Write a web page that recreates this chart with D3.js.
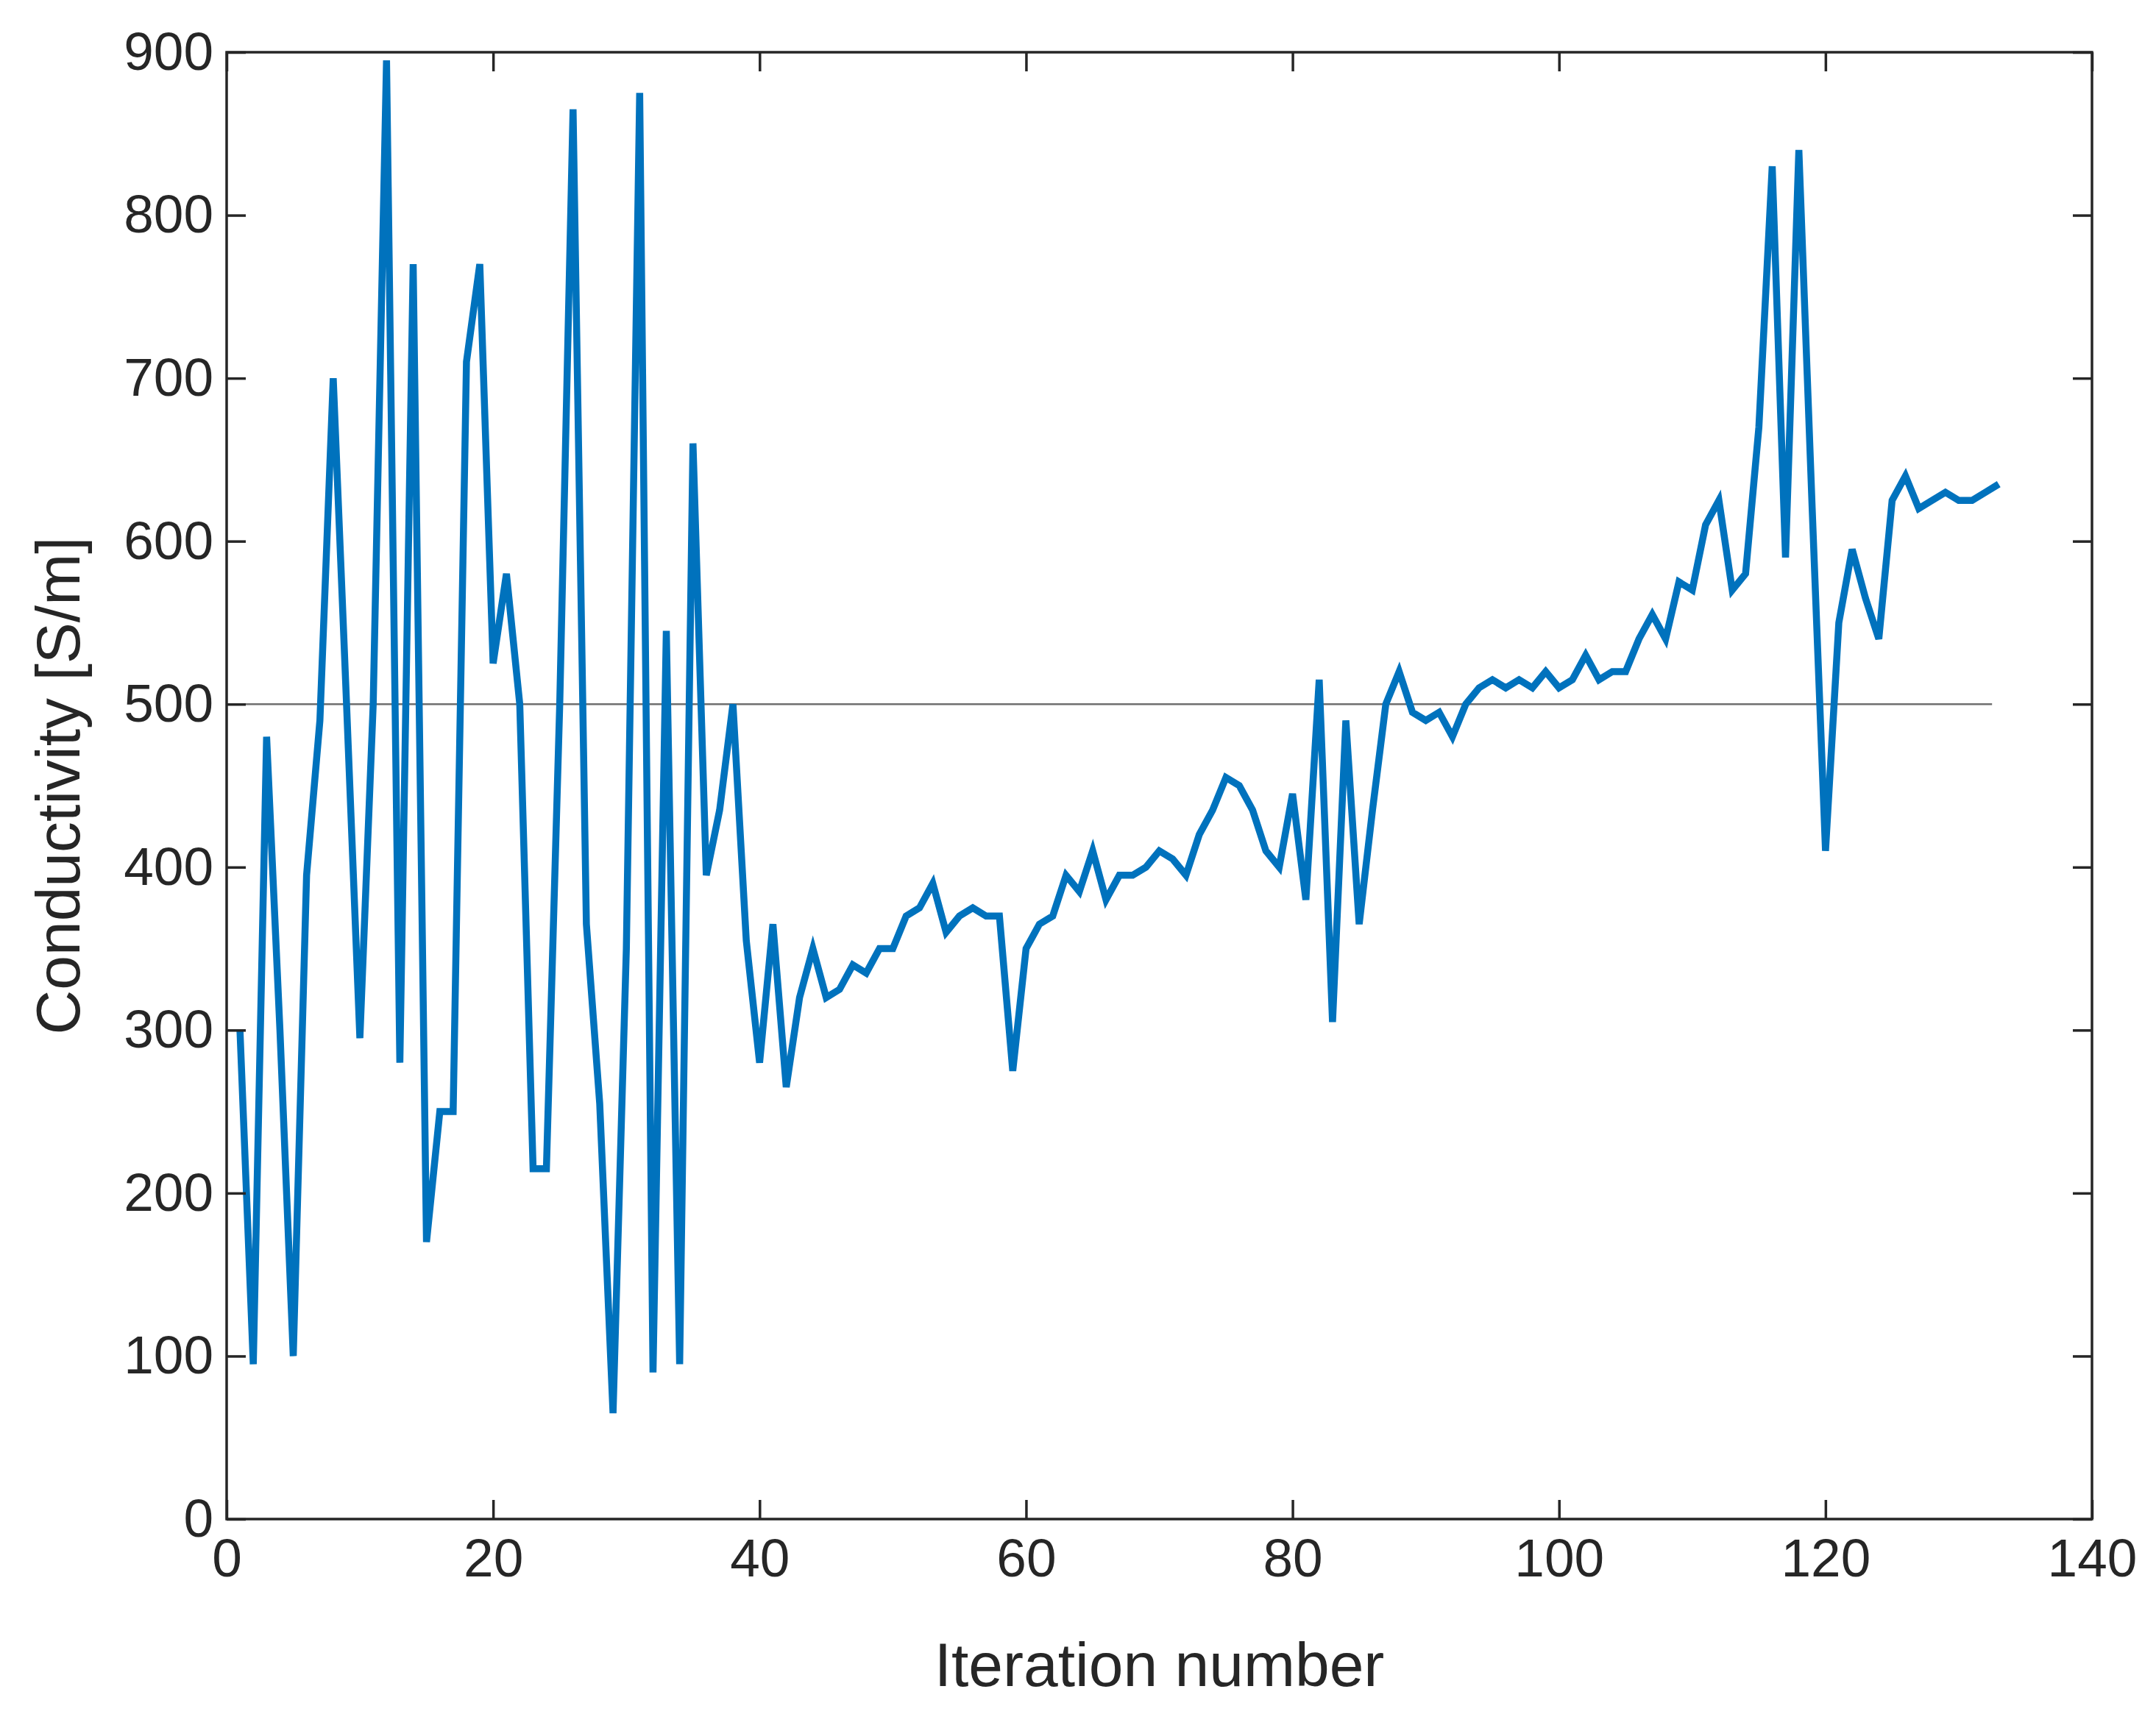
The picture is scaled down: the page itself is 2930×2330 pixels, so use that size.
<!DOCTYPE html>
<html>
<head>
<meta charset="utf-8">
<script src="https://cdn.jsdelivr.net/npm/d3@7"></script>
<style>
body { margin: 0; background: #fff; }
text { font-family: "Liberation Sans", Arial, sans-serif; fill: #262626; }
</style>
</head>
<body>
<div id="chart-area"></div>
<script>
var conductivity = [300, 95, 480, 300, 100, 395, 490, 700, 500, 295,
  500, 895, 280, 770, 170, 250, 250, 710, 770, 525,
  580, 500, 215, 215, 500, 865, 365, 255, 65, 350,
  875, 90, 545, 95, 660, 395, 435, 500, 355, 280,
  365, 265, 320, 350, 320, 325, 340, 335, 350, 350,
  370, 375, 390, 360, 370, 375, 370, 370, 275, 350,
  365, 370, 395, 385, 410, 380, 395, 395, 400, 410,
  405, 395, 420, 435, 455, 450, 435, 410, 400, 445,
  380, 515, 305, 490, 365, 435, 500, 520, 495, 490,
  495, 480, 500, 510, 515, 510, 515, 510, 520, 510,
  515, 530, 515, 520, 520, 540, 555, 540, 575, 570,
  610, 625, 570, 580, 670, 830, 590, 840, 620, 410,
  550, 595, 565, 540, 625, 640, 620, 625, 630, 625,
  625, 630, 635];
var iterations = conductivity.map((d, i) => i + 1);
var target = 500;
var xTicks = [0, 20, 40, 60, 80, 100, 120, 140];
var yTicks = [0, 100, 200, 300, 400, 500, 600, 700, 800, 900];

var W = 2930, H = 2330;
var margin = {left: 308, right: 87, top: 71, bottom: 265};
var width = W - margin.left - margin.right;
var height = H - margin.top - margin.bottom;

var svg = d3.select("#chart-area").append("svg")
  .attr("width", W).attr("height", H);
var g = svg.append("g")
  .attr("transform", "translate(" + margin.left + "," + margin.top + ")");

var x = d3.scaleLinear().domain([0, 140]).range([0, width]);
var y = d3.scaleLinear().domain([0, 900]).range([height, 0]);

// reference line
g.append("line")
  .attr("x1", x(0)).attr("x2", x(132.5))
  .attr("y1", y(target)).attr("y2", y(target))
  .attr("stroke", "#6f6f6f").attr("stroke-width", 2.5);

var line = d3.line().x((d, i) => x(iterations[i])).y(d => y(d));
g.append("path").datum(conductivity)
  .attr("d", line)
  .attr("fill", "none")
  .attr("stroke", "#0072BD")
  .attr("stroke-width", 9.5)
  .attr("stroke-linejoin", "miter")
  .attr("stroke-miterlimit", 4);

function styleAxis(sel) {
  sel.select(".domain").remove();
  sel.selectAll("line").attr("stroke", "#262626").attr("stroke-width", 3.5);
  sel.selectAll("text").style("font-size", "73px");
}

var tl = 26;
g.append("g").attr("transform", "translate(0," + height + ")")
  .call(d3.axisBottom(x).tickValues(xTicks).tickSize(-tl).tickPadding(26))
  .call(styleAxis);
g.append("g")
  .call(d3.axisLeft(y).tickValues(yTicks).tickSize(-tl).tickPadding(18))
  .call(styleAxis);
g.append("g")
  .call(d3.axisTop(x).tickValues(xTicks).tickSize(-tl).tickFormat(""))
  .call(styleAxis);
g.append("g").attr("transform", "translate(" + width + ",0)")
  .call(d3.axisRight(y).tickValues(yTicks).tickSize(-tl).tickFormat(""))
  .call(styleAxis);

g.append("rect")
  .attr("width", width).attr("height", height)
  .attr("fill", "none").attr("stroke", "#262626").attr("stroke-width", 3.5);

g.append("text")
  .attr("x", width / 2).attr("y", height + 227)
  .attr("text-anchor", "middle").style("font-size", "84px")
  .text("Iteration number");

g.append("text")
  .attr("transform", "rotate(-90)")
  .attr("x", -height / 2).attr("y", -200)
  .attr("text-anchor", "middle").style("font-size", "84px")
  .text("Conductivity [S/m]");
</script>
</body>
</html>
